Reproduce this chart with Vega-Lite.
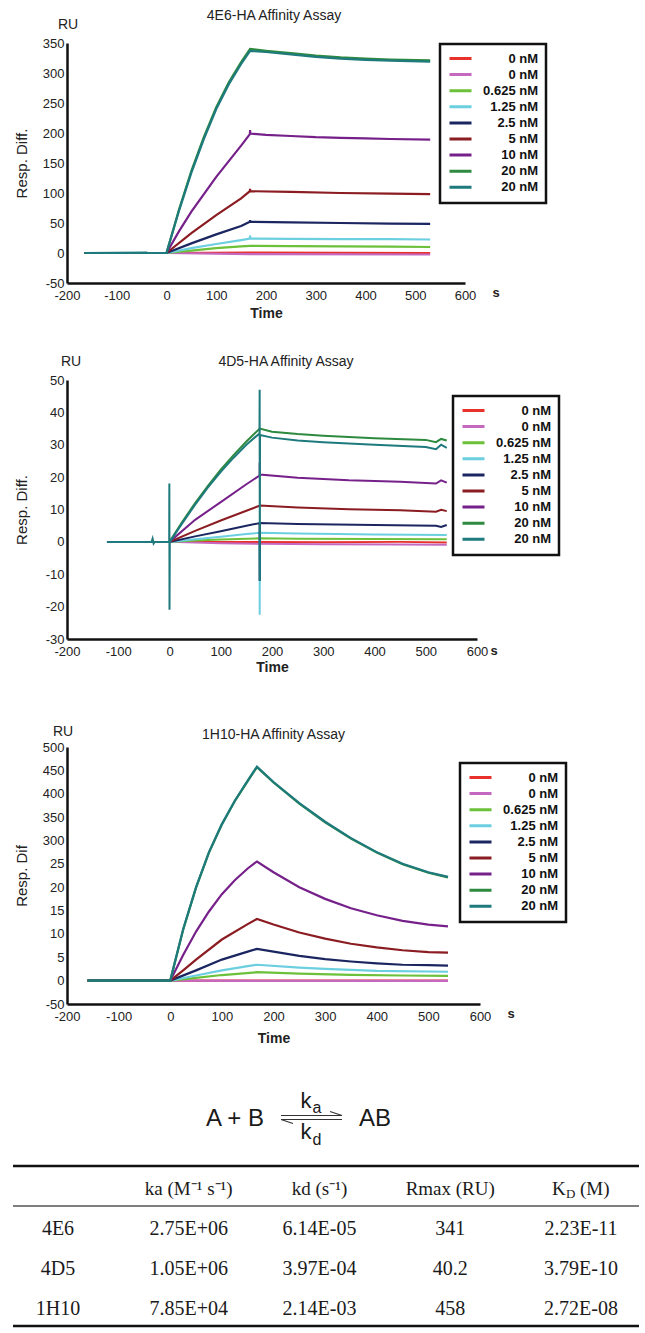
{
  "$schema": "https://vega.github.io/schema/vega-lite/v6.json",
  "padding": {"left": 11, "top": 8, "right": 5, "bottom": 5},
  "config": {
    "view": {"stroke": null},
    "font": "Liberation Sans",
    "axis": {"domainColor": "#111", "domainWidth": 2.5, "ticks": false, "grid": false, "labelFontSize": 13, "labelColor": "#222", "titleColor": "#222", "labelFont": "Liberation Sans", "titleFont": "Liberation Sans", "tickCount": 30},
    "legend": {"strokeColor": "#111", "strokeWidth": 2.5, "fillColor": "white", "padding": 8, "symbolType": "stroke", "symbolSize": 484, "symbolStrokeWidth": 3, "labelFontSize": 13, "labelFontWeight": "bold", "labelColor": "#111", "labelAlign": "right", "labelOffset": 65, "rowPadding": 2.1, "labelLimit": 0, "clipHeight": 13}
  },
  "datasets": {
    "d1": [
      {"s":"0 nM#1","t":-165,"r":0},{"s":"0 nM#1","t":0,"r":0},{"s":"0 nM#1","t":168,"r":0.5},{"s":"0 nM#1","t":530,"r":0},
      {"s":"0 nM#2","t":-165,"r":0},{"s":"0 nM#2","t":0,"r":0},{"s":"0 nM#2","t":168,"r":-2},{"s":"0 nM#2","t":530,"r":-2.5},
      {"s":"0.625 nM","t":-165,"r":0},{"s":"0.625 nM","t":0,"r":0},{"s":"0.625 nM","t":50,"r":4},{"s":"0.625 nM","t":100,"r":8},{"s":"0.625 nM","t":150,"r":11},{"s":"0.625 nM","t":168,"r":12},{"s":"0.625 nM","t":250,"r":11.5},{"s":"0.625 nM","t":350,"r":11},{"s":"0.625 nM","t":450,"r":10.5},{"s":"0.625 nM","t":530,"r":10},
      {"s":"1.25 nM","t":-165,"r":0},{"s":"1.25 nM","t":0,"r":0},{"s":"1.25 nM","t":50,"r":8},{"s":"1.25 nM","t":100,"r":15},{"s":"1.25 nM","t":150,"r":21.5},{"s":"1.25 nM","t":167.6,"r":24},{"s":"1.25 nM","t":168,"r":29},{"s":"1.25 nM","t":168.4,"r":24},{"s":"1.25 nM","t":250,"r":23.5},{"s":"1.25 nM","t":350,"r":23},{"s":"1.25 nM","t":450,"r":23},{"s":"1.25 nM","t":530,"r":22.5},
      {"s":"2.5 nM","t":-165,"r":0},{"s":"2.5 nM","t":0,"r":0},{"s":"2.5 nM","t":50,"r":16},{"s":"2.5 nM","t":100,"r":31},{"s":"2.5 nM","t":150,"r":45},{"s":"2.5 nM","t":167.6,"r":52},{"s":"2.5 nM","t":168,"r":55},{"s":"2.5 nM","t":168.4,"r":52},{"s":"2.5 nM","t":250,"r":51},{"s":"2.5 nM","t":350,"r":50},{"s":"2.5 nM","t":450,"r":49},{"s":"2.5 nM","t":530,"r":48.5},
      {"s":"5 nM","t":-165,"r":0},{"s":"5 nM","t":0,"r":0},{"s":"5 nM","t":50,"r":33},{"s":"5 nM","t":100,"r":63},{"s":"5 nM","t":150,"r":91},{"s":"5 nM","t":167.6,"r":103},{"s":"5 nM","t":168,"r":107},{"s":"5 nM","t":168.4,"r":103},{"s":"5 nM","t":250,"r":102},{"s":"5 nM","t":350,"r":100},{"s":"5 nM","t":450,"r":99},{"s":"5 nM","t":530,"r":98},
      {"s":"10 nM","t":-165,"r":0},{"s":"10 nM","t":0,"r":0},{"s":"10 nM","t":25,"r":36},{"s":"10 nM","t":50,"r":69},{"s":"10 nM","t":100,"r":127},{"s":"10 nM","t":150,"r":179},{"s":"10 nM","t":167.6,"r":198},{"s":"10 nM","t":168,"r":205},{"s":"10 nM","t":168.4,"r":199},{"s":"10 nM","t":200,"r":197},{"s":"10 nM","t":250,"r":195},{"s":"10 nM","t":300,"r":193},{"s":"10 nM","t":350,"r":192},{"s":"10 nM","t":400,"r":191},{"s":"10 nM","t":450,"r":190},{"s":"10 nM","t":530,"r":189},
      {"s":"20 nM#1","t":-165,"r":0},{"s":"20 nM#1","t":0,"r":0},{"s":"20 nM#1","t":25,"r":72},{"s":"20 nM#1","t":50,"r":137},{"s":"20 nM#1","t":75,"r":193},{"s":"20 nM#1","t":100,"r":243},{"s":"20 nM#1","t":125,"r":284},{"s":"20 nM#1","t":150,"r":318},{"s":"20 nM#1","t":168,"r":340},{"s":"20 nM#1","t":200,"r":337},{"s":"20 nM#1","t":250,"r":333},{"s":"20 nM#1","t":300,"r":329},{"s":"20 nM#1","t":350,"r":326},{"s":"20 nM#1","t":400,"r":324},{"s":"20 nM#1","t":450,"r":322.5},{"s":"20 nM#1","t":530,"r":321},
      {"s":"20 nM#2","t":-165,"r":0},{"s":"20 nM#2","t":-40,"r":0.5},{"s":"20 nM#2","t":-38,"r":0},{"s":"20 nM#2","t":0,"r":0},{"s":"20 nM#2","t":25,"r":70},{"s":"20 nM#2","t":50,"r":134},{"s":"20 nM#2","t":75,"r":190},{"s":"20 nM#2","t":100,"r":240},{"s":"20 nM#2","t":125,"r":281},{"s":"20 nM#2","t":150,"r":315},{"s":"20 nM#2","t":168,"r":337},{"s":"20 nM#2","t":200,"r":335},{"s":"20 nM#2","t":250,"r":331},{"s":"20 nM#2","t":300,"r":327},{"s":"20 nM#2","t":350,"r":324},{"s":"20 nM#2","t":400,"r":322},{"s":"20 nM#2","t":450,"r":320.5},{"s":"20 nM#2","t":530,"r":319}
    ],
    "d2": [
      {"s":"0 nM#1","t":-122,"r":0},{"s":"0 nM#1","t":0,"r":0},{"s":"0 nM#1","t":176,"r":0},{"s":"0 nM#1","t":300,"r":-0.1},{"s":"0 nM#1","t":450,"r":0},{"s":"0 nM#1","t":541,"r":-0.2},
      {"s":"0 nM#2","t":-122,"r":0},{"s":"0 nM#2","t":0,"r":0},{"s":"0 nM#2","t":100,"r":-0.4},{"s":"0 nM#2","t":176,"r":-0.6},{"s":"0 nM#2","t":300,"r":-0.7},{"s":"0 nM#2","t":450,"r":-0.8},{"s":"0 nM#2","t":541,"r":-0.9},
      {"s":"0.625 nM","t":-122,"r":0},{"s":"0.625 nM","t":0,"r":0},{"s":"0.625 nM","t":50,"r":0.4},{"s":"0.625 nM","t":100,"r":0.7},{"s":"0.625 nM","t":176,"r":1.1},{"s":"0.625 nM","t":250,"r":1.0},{"s":"0.625 nM","t":400,"r":0.9},{"s":"0.625 nM","t":541,"r":0.8},
      {"s":"1.25 nM","t":-122,"r":0},{"s":"1.25 nM","t":0,"r":0},{"s":"1.25 nM","t":50,"r":0.8},{"s":"1.25 nM","t":100,"r":1.6},{"s":"1.25 nM","t":150,"r":2.4},{"s":"1.25 nM","t":175.8,"r":2.8},{"s":"1.25 nM","t":176,"r":-22.5},{"s":"1.25 nM","t":176.4,"r":2.8},{"s":"1.25 nM","t":250,"r":2.6},{"s":"1.25 nM","t":400,"r":2.3},{"s":"1.25 nM","t":541,"r":2.1},
      {"s":"2.5 nM","t":-122,"r":0},{"s":"2.5 nM","t":0,"r":0},{"s":"2.5 nM","t":50,"r":1.7},{"s":"2.5 nM","t":100,"r":3.3},{"s":"2.5 nM","t":150,"r":5},{"s":"2.5 nM","t":175.8,"r":5.8},{"s":"2.5 nM","t":176,"r":-12},{"s":"2.5 nM","t":176.4,"r":5.8},{"s":"2.5 nM","t":250,"r":5.5},{"s":"2.5 nM","t":400,"r":5.2},{"s":"2.5 nM","t":520,"r":5},{"s":"2.5 nM","t":530,"r":4.6},{"s":"2.5 nM","t":541,"r":5.2},
      {"s":"5 nM","t":-122,"r":0},{"s":"5 nM","t":0,"r":0},{"s":"5 nM","t":50,"r":3.4},{"s":"5 nM","t":100,"r":6.6},{"s":"5 nM","t":150,"r":9.6},{"s":"5 nM","t":176,"r":11.2},{"s":"5 nM","t":250,"r":10.6},{"s":"5 nM","t":350,"r":10.1},{"s":"5 nM","t":450,"r":9.8},{"s":"5 nM","t":520,"r":9.3},{"s":"5 nM","t":530,"r":9.9},{"s":"5 nM","t":541,"r":9.5},
      {"s":"10 nM","t":-122,"r":0},{"s":"10 nM","t":0,"r":0},{"s":"10 nM","t":50,"r":6.8},{"s":"10 nM","t":100,"r":12.3},{"s":"10 nM","t":150,"r":17.8},{"s":"10 nM","t":175.8,"r":20.5},{"s":"10 nM","t":176,"r":24.5},{"s":"10 nM","t":176.4,"r":20.8},{"s":"10 nM","t":250,"r":19.8},{"s":"10 nM","t":350,"r":19},{"s":"10 nM","t":450,"r":18.6},{"s":"10 nM","t":520,"r":18},{"s":"10 nM","t":530,"r":19},{"s":"10 nM","t":541,"r":18.3},
      {"s":"20 nM#1","t":-122,"r":0},{"s":"20 nM#1","t":0,"r":0},{"s":"20 nM#1","t":25,"r":6.2},{"s":"20 nM#1","t":50,"r":12},{"s":"20 nM#1","t":75,"r":17.3},{"s":"20 nM#1","t":100,"r":22.3},{"s":"20 nM#1","t":125,"r":26.8},{"s":"20 nM#1","t":150,"r":31},{"s":"20 nM#1","t":176,"r":35},{"s":"20 nM#1","t":200,"r":34},{"s":"20 nM#1","t":250,"r":33.3},{"s":"20 nM#1","t":300,"r":32.8},{"s":"20 nM#1","t":400,"r":32},{"s":"20 nM#1","t":500,"r":31.5},{"s":"20 nM#1","t":520,"r":30.8},{"s":"20 nM#1","t":530,"r":31.8},{"s":"20 nM#1","t":541,"r":31.3},
      {"s":"20 nM#2","t":-122,"r":0},{"s":"20 nM#2","t":-35,"r":0},{"s":"20 nM#2","t":-33,"r":1},{"s":"20 nM#2","t":-31,"r":-0.5},{"s":"20 nM#2","t":-29,"r":0},{"s":"20 nM#2","t":-0.6,"r":0},{"s":"20 nM#2","t":-0.3,"r":18},{"s":"20 nM#2","t":0,"r":-21},{"s":"20 nM#2","t":0.6,"r":0},{"s":"20 nM#2","t":25,"r":5.8},{"s":"20 nM#2","t":50,"r":11.5},{"s":"20 nM#2","t":75,"r":16.8},{"s":"20 nM#2","t":100,"r":21.6},{"s":"20 nM#2","t":125,"r":26},{"s":"20 nM#2","t":150,"r":30},{"s":"20 nM#2","t":175.6,"r":33.5},{"s":"20 nM#2","t":175.9,"r":47},{"s":"20 nM#2","t":176.2,"r":-12},{"s":"20 nM#2","t":176.6,"r":33},{"s":"20 nM#2","t":200,"r":32.2},{"s":"20 nM#2","t":250,"r":31.3},{"s":"20 nM#2","t":300,"r":30.8},{"s":"20 nM#2","t":400,"r":30},{"s":"20 nM#2","t":500,"r":29.3},{"s":"20 nM#2","t":520,"r":28.6},{"s":"20 nM#2","t":530,"r":30},{"s":"20 nM#2","t":541,"r":29}
    ],
    "d3": [
      {"s":"0 nM#1","t":-160,"r":0},{"s":"0 nM#1","t":0,"r":0},{"s":"0 nM#1","t":168,"r":0},{"s":"0 nM#1","t":538,"r":0},
      {"s":"0 nM#2","t":-160,"r":0},{"s":"0 nM#2","t":0,"r":0},{"s":"0 nM#2","t":168,"r":-0.5},{"s":"0 nM#2","t":538,"r":-0.5},
      {"s":"0.625 nM","t":-160,"r":0},{"s":"0.625 nM","t":0,"r":0},{"s":"0.625 nM","t":50,"r":6},{"s":"0.625 nM","t":100,"r":12},{"s":"0.625 nM","t":168,"r":18},{"s":"0.625 nM","t":250,"r":15},{"s":"0.625 nM","t":350,"r":12.5},{"s":"0.625 nM","t":450,"r":11},{"s":"0.625 nM","t":538,"r":10},
      {"s":"1.25 nM","t":-160,"r":0},{"s":"1.25 nM","t":0,"r":0},{"s":"1.25 nM","t":50,"r":11},{"s":"1.25 nM","t":100,"r":22},{"s":"1.25 nM","t":150,"r":31},{"s":"1.25 nM","t":168,"r":34},{"s":"1.25 nM","t":250,"r":28},{"s":"1.25 nM","t":300,"r":25},{"s":"1.25 nM","t":400,"r":21},{"s":"1.25 nM","t":538,"r":19},
      {"s":"2.5 nM","t":-160,"r":0},{"s":"2.5 nM","t":0,"r":0},{"s":"2.5 nM","t":50,"r":22},{"s":"2.5 nM","t":100,"r":45},{"s":"2.5 nM","t":150,"r":62},{"s":"2.5 nM","t":168,"r":68},{"s":"2.5 nM","t":200,"r":62},{"s":"2.5 nM","t":250,"r":53},{"s":"2.5 nM","t":300,"r":46},{"s":"2.5 nM","t":350,"r":41},{"s":"2.5 nM","t":400,"r":37},{"s":"2.5 nM","t":450,"r":34},{"s":"2.5 nM","t":500,"r":33},{"s":"2.5 nM","t":538,"r":32},
      {"s":"5 nM","t":-160,"r":0},{"s":"5 nM","t":0,"r":0},{"s":"5 nM","t":25,"r":22},{"s":"5 nM","t":50,"r":45},{"s":"5 nM","t":100,"r":88},{"s":"5 nM","t":150,"r":121},{"s":"5 nM","t":168,"r":132},{"s":"5 nM","t":200,"r":120},{"s":"5 nM","t":250,"r":103},{"s":"5 nM","t":300,"r":90},{"s":"5 nM","t":350,"r":79},{"s":"5 nM","t":400,"r":71},{"s":"5 nM","t":450,"r":65},{"s":"5 nM","t":500,"r":61},{"s":"5 nM","t":538,"r":60},
      {"s":"10 nM","t":-160,"r":0},{"s":"10 nM","t":0,"r":0},{"s":"10 nM","t":25,"r":55},{"s":"10 nM","t":50,"r":105},{"s":"10 nM","t":75,"r":148},{"s":"10 nM","t":100,"r":185},{"s":"10 nM","t":125,"r":215},{"s":"10 nM","t":150,"r":240},{"s":"10 nM","t":168,"r":255},{"s":"10 nM","t":200,"r":232},{"s":"10 nM","t":250,"r":200},{"s":"10 nM","t":300,"r":175},{"s":"10 nM","t":350,"r":155},{"s":"10 nM","t":400,"r":140},{"s":"10 nM","t":450,"r":128},{"s":"10 nM","t":500,"r":120},{"s":"10 nM","t":538,"r":116},
      {"s":"20 nM#1","t":-160,"r":0},{"s":"20 nM#1","t":0,"r":0},{"s":"20 nM#1","t":25,"r":109},{"s":"20 nM#1","t":50,"r":199},{"s":"20 nM#1","t":75,"r":274},{"s":"20 nM#1","t":100,"r":334},{"s":"20 nM#1","t":125,"r":384},{"s":"20 nM#1","t":150,"r":427},{"s":"20 nM#1","t":168,"r":457},{"s":"20 nM#1","t":200,"r":424},{"s":"20 nM#1","t":250,"r":379},{"s":"20 nM#1","t":300,"r":339},{"s":"20 nM#1","t":350,"r":304},{"s":"20 nM#1","t":400,"r":274},{"s":"20 nM#1","t":450,"r":249},{"s":"20 nM#1","t":500,"r":231},{"s":"20 nM#1","t":538,"r":221},
      {"s":"20 nM#2","t":-160,"r":0},{"s":"20 nM#2","t":0,"r":0},{"s":"20 nM#2","t":25,"r":110},{"s":"20 nM#2","t":50,"r":200},{"s":"20 nM#2","t":75,"r":275},{"s":"20 nM#2","t":100,"r":335},{"s":"20 nM#2","t":125,"r":385},{"s":"20 nM#2","t":150,"r":428},{"s":"20 nM#2","t":168,"r":458},{"s":"20 nM#2","t":200,"r":425},{"s":"20 nM#2","t":250,"r":380},{"s":"20 nM#2","t":300,"r":340},{"s":"20 nM#2","t":350,"r":305},{"s":"20 nM#2","t":400,"r":275},{"s":"20 nM#2","t":450,"r":250},{"s":"20 nM#2","t":500,"r":232},{"s":"20 nM#2","t":538,"r":222}
    ],
    "kin": [
      {"row":"4E6","ka":"2.75E+06","kd":"6.14E-05","Rmax":"341","KD":"2.23E-11"},
      {"row":"4D5","ka":"1.05E+06","kd":"3.97E-04","Rmax":"40.2","KD":"3.79E-10"},
      {"row":"1H10","ka":"7.85E+04","kd":"2.14E-03","Rmax":"458","KD":"2.72E-08"}
    ],
    "hdr": [
      {"row":"hdr","col":"ka","h":"ka (M⁻¹ s⁻¹)"},
      {"row":"hdr","col":"kd","h":"kd (s⁻¹)"},
      {"row":"hdr","col":"Rmax","h":"Rmax (RU)"}
    ]
  },
  "vconcat": [
    {
      "width": 398, "height": 240,
      "title": {"text": "4E6-HA Affinity Assay", "fontSize": 14, "fontWeight": "normal", "anchor": "middle", "baseline": "bottom", "offset": -18.5, "dx": 8, "color": "#222"},
      "layer": [
        {
          "data": {"name": "d1"},
          "mark": {"type": "line", "strokeWidth": 2.2},
          "encoding": {
            "x": {"field": "t", "type": "quantitative", "scale": {"domain": [-200, 600], "nice": false}, "axis": {"values": [-200,-100,0,100,200,300,400,500,600], "tickCount": 30, "labelExpr": "'' + datum.value", "labelOverlap": false, "title": "Time", "titleFontWeight": "bold", "titleFontSize": 14, "titlePadding": 4, "labelPadding": 6, "labelFlush": false}},
            "y": {"field": "r", "type": "quantitative", "scale": {"domain": [-50, 350], "nice": false}, "axis": {"values": [-50,0,50,100,150,200,250,300,350], "tickCount": 30, "labelExpr": "'' + datum.value", "labelOverlap": false, "title": "Resp. Diff.", "titleFontWeight": "normal", "titleFontSize": 15, "titleX": -46, "titleBaseline": "middle", "labelPadding": 3}},
            "color": {"field": "s", "type": "nominal", "scale": {"domain": ["0 nM#1","0 nM#2","0.625 nM","1.25 nM","2.5 nM","5 nM","10 nM","20 nM#1","20 nM#2"], "range": ["#e8312a","#c468c0","#6cc03a","#6ccfe0","#1b2660","#8a1c22","#76208a","#2d8a3e","#1e7a7c"]}, "legend": {"orient": "none", "title": null, "legendX": 373, "legendY": 1, "labelExpr": "split(datum.label, '#')[0]"}}
          }
        },
        {"data": {"values": [{}]}, "mark": {"type": "text", "text": "RU", "fontSize": 14, "dx": 1, "dy": -18, "color": "#222"}, "encoding": {"x": {"datum": -200, "type": "quantitative"}, "y": {"datum": 350, "type": "quantitative"}}},
        {"data": {"values": [{}]}, "mark": {"type": "text", "text": "s", "fontSize": 13, "fontWeight": "bold", "dx": 31, "dy": 10, "color": "#222"}, "encoding": {"x": {"datum": 600, "type": "quantitative"}, "y": {"datum": -50, "type": "quantitative"}}}
      ]
    },
    {
      "width": 410, "height": 259,
      "title": {"text": ["", "4D5-HA Affinity Assay"], "lineHeight": 18, "fontSize": 14, "fontWeight": "normal", "anchor": "middle", "baseline": "bottom", "offset": -27.5, "dx": 14, "color": "#222"},
      "layer": [
        {
          "data": {"name": "d2"},
          "mark": {"type": "line", "strokeWidth": 2},
          "encoding": {
            "x": {"field": "t", "type": "quantitative", "scale": {"domain": [-200, 600], "nice": false}, "axis": {"values": [-200,-100,0,100,200,300,400,500,600], "tickCount": 30, "labelExpr": "'' + datum.value", "labelOverlap": false, "title": "Time", "titleFontWeight": "bold", "titleFontSize": 14, "titlePadding": 2, "labelPadding": 6, "labelFlush": false}},
            "y": {"field": "r", "type": "quantitative", "scale": {"domain": [-30, 50], "nice": false}, "axis": {"values": [-30,-20,-10,0,10,20,30,40,50], "tickCount": 30, "labelExpr": "'' + datum.value", "labelOverlap": false, "title": "Resp. Diff.", "titleFontWeight": "normal", "titleFontSize": 15, "titleX": -46, "titleBaseline": "middle", "labelPadding": 3}},
            "color": {"field": "s", "type": "nominal", "scale": {"domain": ["0 nM#1","0 nM#2","0.625 nM","1.25 nM","2.5 nM","5 nM","10 nM","20 nM#1","20 nM#2"], "range": ["#e8312a","#c468c0","#6cc03a","#6ccfe0","#1b2660","#8a1c22","#76208a","#2d8a3e","#1e7a7c"]}, "legend": {"orient": "none", "title": null, "legendX": 386, "legendY": 16, "labelExpr": "split(datum.label, '#')[0]"}}
          }
        },
        {"data": {"values": [{}]}, "mark": {"type": "text", "text": "RU", "fontSize": 14, "dx": 4, "dy": -18, "color": "#222"}, "encoding": {"x": {"datum": -200, "type": "quantitative"}, "y": {"datum": 50, "type": "quantitative"}}},
        {"data": {"values": [{}]}, "mark": {"type": "text", "text": "s", "fontSize": 13, "fontWeight": "bold", "dx": 17, "dy": 12, "color": "#222"}, "encoding": {"x": {"datum": 600, "type": "quantitative"}, "y": {"datum": -30, "type": "quantitative"}}}
      ]
    },
    {
      "width": 413, "height": 257,
      "title": {"text": ["", "1H10-HA Affinity Assay"], "lineHeight": 37, "fontSize": 14, "fontWeight": "normal", "anchor": "middle", "baseline": "bottom", "offset": -30.5, "dx": 0, "color": "#222"},
      "layer": [
        {
          "data": {"name": "d3"},
          "mark": {"type": "line", "strokeWidth": 2.2},
          "encoding": {
            "x": {"field": "t", "type": "quantitative", "scale": {"domain": [-200, 600], "nice": false}, "axis": {"values": [-200,-100,0,100,200,300,400,500,600], "tickCount": 30, "labelExpr": "'' + datum.value", "labelOverlap": false, "title": "Time", "titleFontWeight": "bold", "titleFontSize": 14, "titlePadding": 8, "labelPadding": 6, "labelFlush": false}},
            "y": {"field": "r", "type": "quantitative", "scale": {"domain": [-50, 500], "nice": false}, "axis": {"values": [-50,0,50,100,150,200,250,300,350,400,450,500], "tickCount": 30, "labelExpr": "datum.value >= 300 || datum.value <= 0 ? '' + datum.value : '' + (datum.value / 10)", "labelOverlap": false, "title": "Resp. Dif", "titleFontWeight": "normal", "titleFontSize": 15, "titleX": -46, "titleBaseline": "middle", "labelPadding": 3}},
            "color": {"field": "s", "type": "nominal", "scale": {"domain": ["0 nM#1","0 nM#2","0.625 nM","1.25 nM","2.5 nM","5 nM","10 nM","20 nM#1","20 nM#2"], "range": ["#e8312a","#c468c0","#6cc03a","#6ccfe0","#1b2660","#8a1c22","#76208a","#2d8a3e","#1e7a7c"]}, "legend": {"orient": "none", "title": null, "legendX": 393, "legendY": 16, "labelExpr": "split(datum.label, '#')[0]"}}
          }
        },
        {"data": {"values": [{}]}, "mark": {"type": "text", "text": "RU", "fontSize": 14, "dx": -4, "dy": -15, "color": "#222"}, "encoding": {"x": {"datum": -200, "type": "quantitative"}, "y": {"datum": 500, "type": "quantitative"}}},
        {"data": {"values": [{}]}, "mark": {"type": "text", "text": "s", "fontSize": 13, "fontWeight": "bold", "dx": 31, "dy": 10, "color": "#222"}, "encoding": {"x": {"datum": 600, "type": "quantitative"}, "y": {"datum": -50, "type": "quantitative"}}}
      ]
    },
    {
      "width": 572, "height": 84,
      "data": {"values": [{"k": "eq"}]},
      "encoding": {
        "x": {"field": "k", "type": "nominal", "axis": null, "scale": {"type": "point", "padding": 0.5}},
        "y": {"field": "k", "type": "nominal", "axis": null, "scale": {"type": "point", "padding": 0.5}}
      },
      "layer": [
        {"mark": {"type": "text", "text": "A + B", "font": "Liberation Sans", "fontSize": 24, "dx": -118, "dy": 16, "baseline": "middle", "color": "#1a1a1a"}},
        {"mark": {"type": "text", "text": "AB", "font": "Liberation Sans", "fontSize": 24, "dx": 22, "dy": 16, "baseline": "middle", "color": "#1a1a1a"}},
        {"mark": {"type": "text", "text": "k", "font": "Liberation Sans", "fontSize": 22, "dx": -47, "dy": -2, "baseline": "middle", "color": "#1a1a1a"}},
        {"mark": {"type": "text", "text": "a", "font": "Liberation Sans", "fontSize": 16, "dx": -36, "dy": 5, "baseline": "middle", "color": "#1a1a1a"}},
        {"mark": {"type": "text", "text": "k", "font": "Liberation Sans", "fontSize": 22, "dx": -47, "dy": 29, "baseline": "middle", "color": "#1a1a1a"}},
        {"mark": {"type": "text", "text": "d", "font": "Liberation Sans", "fontSize": 16, "dx": -36, "dy": 37, "baseline": "middle", "color": "#1a1a1a"}},
        {"mark": {"type": "rule", "strokeWidth": 1.2, "color": "#333", "xOffset": -72, "x2Offset": -11, "yOffset": 12.5, "y2Offset": 12.5}, "encoding": {"x2": {"field": "k"}, "y2": {"field": "k"}}},
        {"mark": {"type": "rule", "strokeWidth": 1.2, "color": "#333", "xOffset": -72, "x2Offset": -11, "yOffset": 16.5, "y2Offset": 16.5}, "encoding": {"x2": {"field": "k"}, "y2": {"field": "k"}}},
        {"mark": {"type": "rule", "strokeWidth": 1.1, "color": "#333", "xOffset": -23, "x2Offset": -11, "yOffset": 8.5, "y2Offset": 12.5}, "encoding": {"x2": {"field": "k"}, "y2": {"field": "k"}}},
        {"mark": {"type": "rule", "strokeWidth": 1.1, "color": "#333", "xOffset": -72, "x2Offset": -60, "yOffset": 16.5, "y2Offset": 20.5}, "encoding": {"x2": {"field": "k"}, "y2": {"field": "k"}}}
      ]
    },
    {
      "width": 572, "height": 160,
      "layer": [
        {"data": {"values": [{"row": "hdr", "a": "row", "b": "KD"}]}, "mark": {"type": "rule", "strokeWidth": 2.5, "color": "#111", "yOffset": -20, "xOffset": -45, "x2Offset": 58}, "encoding": {"x": {"field": "a", "type": "nominal", "axis": null}, "x2": {"field": "b"}, "y": {"field": "row", "type": "nominal"}}},
        {"data": {"values": [{"row": "hdr", "a": "row", "b": "KD"}]}, "mark": {"type": "rule", "strokeWidth": 1.5, "color": "#555", "yOffset": 20, "xOffset": -45, "x2Offset": 58}, "encoding": {"x": {"field": "a", "type": "nominal", "axis": null}, "x2": {"field": "b"}, "y": {"field": "row", "type": "nominal"}}},
        {"data": {"values": [{"row": "1H10", "a": "row", "b": "KD"}]}, "mark": {"type": "rule", "strokeWidth": 2.5, "color": "#111", "yOffset": 20, "xOffset": -45, "x2Offset": 58}, "encoding": {"x": {"field": "a", "type": "nominal", "axis": null}, "x2": {"field": "b"}, "y": {"field": "row", "type": "nominal"}}},
        {
          "data": {"name": "kin"},
          "transform": [{"fold": ["row", "ka", "kd", "Rmax", "KD"], "as": ["col", "val"]}],
          "mark": {"type": "text", "font": "Liberation Serif", "fontSize": 20, "dy": 3, "baseline": "middle", "color": "#1a1a1a"},
          "encoding": {
            "x": {"field": "col", "type": "nominal", "axis": null},
            "y": {"field": "row", "type": "nominal"},
            "text": {"field": "val"}
          }
        },
        {
          "data": {"name": "hdr"},
          "mark": {"type": "text", "font": "Liberation Serif", "fontSize": 19, "dy": 3, "baseline": "middle", "color": "#1a1a1a"},
          "encoding": {
            "x": {"field": "col", "type": "nominal", "axis": null},
            "y": {"field": "row", "type": "nominal"},
            "text": {"field": "h"}
          }
        },
        {"data": {"values": [{"row": "hdr", "col": "KD"}]}, "mark": {"type": "text", "text": "K", "font": "Liberation Serif", "fontSize": 19, "dx": -29, "dy": 3, "align": "left", "baseline": "middle", "color": "#1a1a1a"}, "encoding": {"x": {"field": "col", "type": "nominal", "axis": null}, "y": {"field": "row", "type": "nominal"}}},
        {"data": {"values": [{"row": "hdr", "col": "KD"}]}, "mark": {"type": "text", "text": "D", "font": "Liberation Serif", "fontSize": 13, "dx": -15, "dy": 8, "align": "left", "baseline": "middle", "color": "#1a1a1a"}, "encoding": {"x": {"field": "col", "type": "nominal", "axis": null}, "y": {"field": "row", "type": "nominal"}}},
        {"data": {"values": [{"row": "hdr", "col": "KD"}]}, "mark": {"type": "text", "text": "(M)", "font": "Liberation Serif", "fontSize": 19, "dx": -1, "dy": 3, "align": "left", "baseline": "middle", "color": "#1a1a1a"}, "encoding": {"x": {"field": "col", "type": "nominal", "axis": null}, "y": {"field": "row", "type": "nominal"}}}
      ],
      "resolve": {"scale": {"x": "shared", "y": "shared"}},
      "encoding": {
        "x": {"scale": {"type": "point", "domain": ["row", "ka", "kd", "Rmax", "KD"], "range": [-9, 514], "padding": 0}},
        "y": {"scale": {"type": "point", "domain": ["hdr", "4E6", "4D5", "1H10"], "padding": 0.5}, "axis": null}
      }
    }
  ],
  "spacing": 16,
  "resolve": {"scale": {"color": "independent"}, "legend": {"color": "independent"}}
}
